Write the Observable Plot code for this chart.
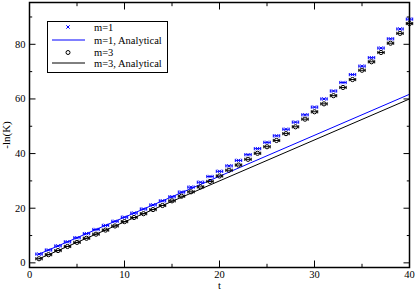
<!DOCTYPE html>
<html><head><meta charset="utf-8">
<script src="https://cdn.jsdelivr.net/npm/d3@7"></script>
<script src="https://cdn.jsdelivr.net/npm/@observablehq/plot@0.6"></script>
<style>body{margin:0;background:#fff;}</style>
</head><body><div id="chart"></div>
<script>
// t values (time steps)
const tValues = [1,2,3,4,5,6,7,8,9,10,11,12,13,14,15,16,17,18,19,20,21,22,23,24,25,26,27,28,29,30,31,32,33,34,35,36,37,38,39,40];
// -ln(K) simulated, m=1
const m1Values = [3.2,4.7,6.2,7.7,9.2,10.7,12.2,13.7,15.2,16.7,18.2,19.7,21.2,22.7,24.2,25.9,27.7,29.5,31.6,33.5,35.5,37.5,39.6,41.8,44.1,46.5,48.9,51.5,54.2,57.0,60.0,62.9,66.0,68.9,72.0,75.1,78.6,82.0,85.6,89.2];
// -ln(K) simulated, m=3
const m3Values = [1.5,3.0,4.5,6.0,7.5,9.0,10.5,12.0,13.5,15.1,16.6,18.0,19.5,21.0,22.7,24.4,26.0,27.8,29.8,31.8,33.9,35.8,37.9,40.1,42.5,44.8,47.3,49.8,52.6,55.3,58.2,61.2,64.2,67.1,70.5,73.6,77.0,80.4,84.0,87.6];
// analytical lines (endpoints)
const lineT = [1, 40];
const m1Analytical = [3.2, 61.7];
const m3Analytical = [1.5, 60.0];
// ticks
const xMajor = [0,10,20,30,40];
const xMinor = [5,15,25,35];
const yMajor = [0,20,40,60,80];
const yMinor = [10,30,50,70,90];
const legendLabels = ["m=1","m=1, Analytical","m=3","m=3, Analytical"];

const BLUE = "#0000ff";
const FONT = "'Liberation Serif', 'Times New Roman', Times, serif";
const rows1 = tValues.map((t,i)=>({t, v:m1Values[i]}));
const rows3 = tValues.map((t,i)=>({t, v:m3Values[i]}));
const line1 = lineT.map((t,i)=>({t, v:m1Analytical[i]}));
const line3 = lineT.map((t,i)=>({t, v:m3Analytical[i]}));

function errBar(ctx){
  ctx.moveTo(-3.2,0); ctx.lineTo(3.2,0);
  ctx.moveTo(-3.2,-1.6); ctx.lineTo(-3.2,1.6);
  ctx.moveTo(3.2,-1.6); ctx.lineTo(3.2,1.6);
}
const symTimes = {draw(ctx){ errBar(ctx);
  ctx.moveTo(-1.7,-1.7); ctx.lineTo(1.7,1.7);
  ctx.moveTo(-1.7,1.7); ctx.lineTo(1.7,-1.7); }};
const symCircle = {draw(ctx){ errBar(ctx);
  ctx.moveTo(2.1,0); ctx.arc(0,0,2.1,0,2*Math.PI); }};

const tickOpts = (anchor, size) => ({anchor, tickSize: size, fill: "none", label: null, strokeWidth: 1});

const chart = Plot.plot({
  width: 415, height: 291,
  marginLeft: 29, marginRight: 6, marginTop: 2, marginBottom: 24,
  style: `font-family: ${FONT}; font-size: 10.5px; background: #fff; color: #000;`,
  x: {domain: [0, 40]},
  y: {domain: [-1.7, 95.3]},
  marks: [
    Plot.dot(rows1, {x: "t", y: "v", symbol: symTimes, r: 3, stroke: BLUE, fill: "none", strokeWidth: 1}),
    Plot.line(line1, {x: "t", y: "v", stroke: BLUE, strokeWidth: 1}),
    Plot.dot(rows3, {x: "t", y: "v", symbol: symCircle, r: 3, stroke: "#000", fill: "none", strokeWidth: 1}),
    Plot.line(line3, {x: "t", y: "v", stroke: "#000", strokeWidth: 1}),
    Plot.axisX(xMajor, tickOpts("bottom", -6.5)),
    Plot.axisX(xMinor, tickOpts("bottom", -3.2)),
    Plot.axisX(xMajor, tickOpts("top", -6.5)),
    Plot.axisX(xMinor, tickOpts("top", -3.2)),
    Plot.axisY(yMajor, tickOpts("left", -6.5)),
    Plot.axisY(yMinor, tickOpts("left", -3.2)),
    Plot.axisY(yMajor, tickOpts("right", -6.5)),
    Plot.axisY(yMinor, tickOpts("right", -3.2)),
    Plot.axisX(xMajor, {anchor: "bottom", tickSize: 0, tickPadding: 3, label: null, fontFamily: FONT, fontSize: 10.5}),
    Plot.axisY(yMajor, {anchor: "left", tickSize: 0, tickPadding: 4, label: null, fontFamily: FONT, fontSize: 10.5}),
    Plot.frame({stroke: "#000", strokeWidth: 1.5}),
    Plot.text(["t"], {frameAnchor: "bottom", dy: 18, lineAnchor: "middle", textAnchor: "middle", fontSize: 10.5, fontFamily: FONT}),
    Plot.text(["-ln(K)"], {frameAnchor: "left", dx: -23, rotate: -90, lineAnchor: "middle", textAnchor: "middle", fontSize: 11, fontFamily: FONT})
  ]
});

// legend box (inside the plot area, top-left)
const svg = d3.select(chart);
const g = svg.append("g").attr("font-family", FONT).attr("font-size", "10.5px").attr("text-anchor", "start");
g.append("rect").attr("x", 47.5).attr("y", 21.5).attr("width", 120).attr("height", 51)
  .attr("fill", "#fff").attr("stroke", "#000").attr("stroke-width", 1);
const rowY = [27, 40, 52.5, 63];
legendLabels.forEach((lab, i) => {
  const y = rowY[i];
  if (i === 0) {
    g.append("path").attr("d", `M66.3,${y-1.7}L69.7,${y+1.7}M66.3,${y+1.7}L69.7,${y-1.7}`).attr("stroke", BLUE).attr("fill", "none");
  } else if (i === 2) {
    g.append("circle").attr("cx", 68).attr("cy", y).attr("r", 2).attr("stroke", "#000").attr("fill", "none");
  } else {
    g.append("line").attr("x1", 52).attr("x2", 85).attr("y1", y).attr("y2", y)
      .attr("stroke", i === 1 ? BLUE : "#000").attr("stroke-width", 1);
  }
  g.append("text").attr("x", 94).attr("y", y).attr("dy", "0.35em").attr("fill", "#000").attr("text-anchor", "start").text(lab);
});

document.getElementById("chart").appendChild(chart);
</script>
</body></html>
